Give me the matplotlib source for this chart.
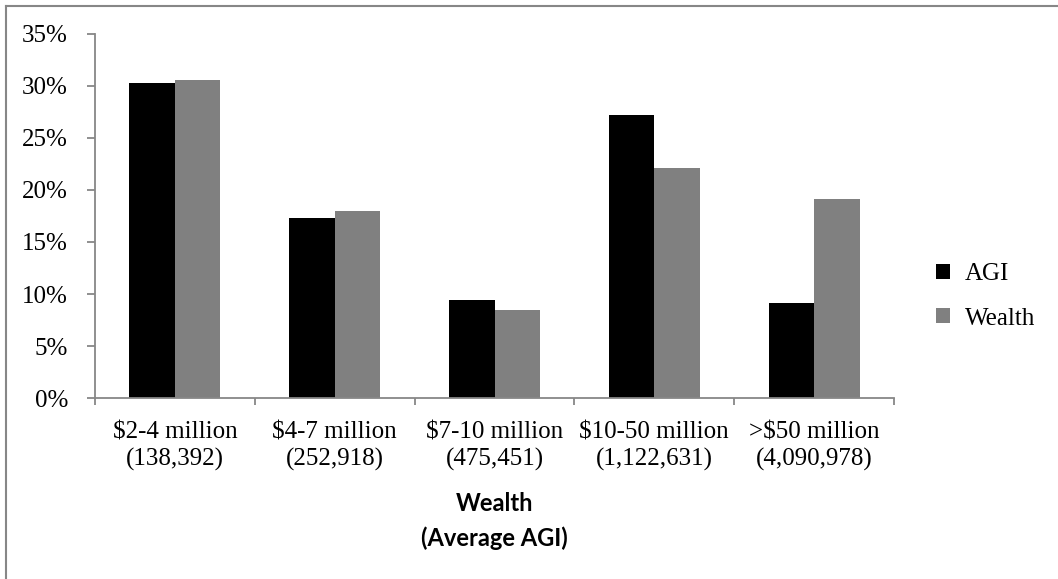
# Share of AGI and wealth by wealth class, grouped bar chart
import matplotlib.pyplot as plt
import numpy as np
from matplotlib import font_manager
from matplotlib.lines import Line2D
from matplotlib.ticker import FuncFormatter, MultipleLocator

categorias = ['$2-4 million\n(138,392)', '$4-7 million\n(252,918)',
              '$7-10 million\n(475,451)', '$10-50 million\n(1,122,631)',
              '>$50 million\n(4,090,978)']
agi = [30.3, 17.3, 9.4, 27.2, 9.1]
riqueza = [30.5, 18.0, 8.45, 22.1, 19.15]

# fuente serif tomada directamente del archivo
ruta_serif = font_manager.findfont(font_manager.FontProperties(family='Liberation Serif'))
fuente = font_manager.FontProperties(fname=ruta_serif, size=18)
gris_eje = '#878787'

fig = plt.figure(figsize=(10.58, 5.79), dpi=100)
ax = fig.add_axes([95 / 1058, 1 - 398.3 / 579, (894 - 95) / 1058, (398.3 - 33.6) / 579])

x = np.arange(len(categorias))
ancho = 0.285
ax.bar(x - ancho / 2, agi, ancho, color='black', label='AGI')
ax.bar(x + ancho / 2, riqueza, ancho, color='#808080', label='Wealth')

ax.set_xlim(-0.5, len(categorias) - 0.5)
ax.set_ylim(0, 35)
ax.yaxis.set_major_locator(MultipleLocator(5))
ax.yaxis.set_major_formatter(FuncFormatter(lambda v, p: f'{v:.0f}%'))

# ticks del eje x en los limites de cada grupo
ax.set_xticks(np.arange(-0.5, len(categorias)), minor=False)
ax.set_xticklabels([])
ax.set_xticks(x, minor=True)
ax.set_xticklabels(categorias, minor=True, fontproperties=fuente,
                   linespacing=1.25)
ax.tick_params(axis='x', which='minor', length=0, pad=16.5)
ax.tick_params(axis='x', which='major', length=5, color=gris_eje, width=1.3)
ax.tick_params(axis='y', length=5.8, color=gris_eje, width=1.3, pad=13.7)
for t in ax.get_yticklabels():
    t.set_fontproperties(fuente)

for lado in ['top', 'right']:
    ax.spines[lado].set_visible(False)
for lado in ['left', 'bottom']:
    ax.spines[lado].set_color(gris_eje)
    ax.spines[lado].set_linewidth(1.3)

ax.set_xlabel('Wealth\n(Average AGI)', family='Lato', fontweight='bold',
              fontsize=17, labelpad=15, linespacing=1.6)

ax.legend(loc='center left', bbox_to_anchor=(1.025, 0.279), frameon=False,
          prop=fuente, handlelength=0.55, handleheight=0.55,
          handletextpad=0.6, labelspacing=0.9)

# marco exterior: solo arriba y a la izquierda
fig.add_artist(Line2D([5.5 / 1058, 1], [1 - 5.5 / 579] * 2, color=gris_eje, lw=1.5))
fig.add_artist(Line2D([5.5 / 1058] * 2, [0, 1 - 5.5 / 579], color=gris_eje, lw=1.5))

fig.savefig('out.png', dpi=100)
